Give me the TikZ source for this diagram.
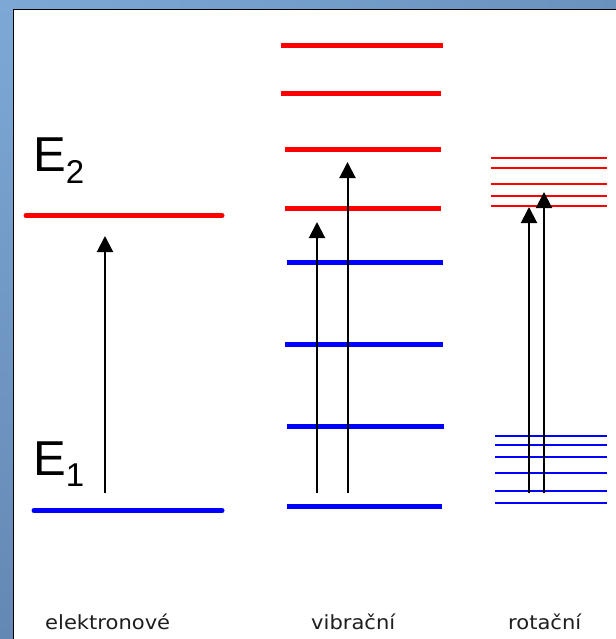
\documentclass[tikz,border=0pt]{standalone}
\usepackage{fontspec}
\setmainfont{Liberation Sans}
\newfontfamily\labfont[FakeStretch=1.08]{DejaVu Sans}
\usetikzlibrary{arrows.meta}
\definecolor{bgTL}{HTML}{7DA8D6}
\definecolor{bgTR}{HTML}{6A92BF}
\definecolor{bgBL}{HTML}{6488B4}
\definecolor{labgray}{HTML}{1E1E1E}
\tikzset{
  uplevel/.style={draw={rgb,255:red,255;green,0;blue,0}},
  lowlevel/.style={draw={rgb,255:red,0;green,0;blue,255}},
  thick level/.style={line width=5bp},
  thin level/.style={line width=2bp},
  excite/.style={line width=2bp,-{Triangle[width=16bp,length=16bp]}},
  biglabel/.style={anchor=base west,inner sep=0pt,font=\fontsize{49bp}{49bp}\selectfont},
  axislabel/.style={anchor=base west,inner sep=0pt,text=labgray,font=\labfont\fontsize{19.5bp}{20bp}\selectfont}
}
\begin{document}
\begin{tikzpicture}[x=1bp,y=-1bp]
\useasboundingbox (0,0) rectangle (616,639);
% background
\fill[white] (0,0) rectangle (616,639);
\shade[top color=bgTL,bottom color=bgBL] (0,0) rectangle (13,639);
\shade[left color=bgTL,right color=bgTR] (0,0) rectangle (616,9);
\draw[line width=1.8bp] (13.5,639) -- (13.5,9.5) -- (616,9.5);

% electronic levels
\draw[uplevel,thick level,line cap=round] (26,215.5) -- (222,215.5);
\draw[lowlevel,thick level,line cap=round] (34,510.5) -- (222,510.5);
\node[biglabel] (E2) at (33,172) {E\raisebox{-12bp}{\fontsize{33bp}{33bp}\selectfont 2}};
\node[biglabel] (E1) at (33,475) {E\raisebox{-11bp}{\fontsize{33bp}{33bp}\selectfont 1}};
\coordinate (e0) at (105,493);
\coordinate (e1) at (105,236);
\draw[excite] (e0) -- (e1);

% vibrational levels
\draw[uplevel,thick level] (281,45.5) -- (443,45.5);
\draw[uplevel,thick level] (281,94) -- (441,94);
\draw[uplevel,thick level] (285,150) -- (441,150);
\draw[uplevel,thick level] (285,208) -- (441,208);
\draw[lowlevel,thick level] (287,262) -- (443,262);
\draw[lowlevel,thick level] (285,344) -- (443,344);
\draw[lowlevel,thick level] (287,426.5) -- (444,426.5);
\draw[lowlevel,thick level] (287,506.5) -- (442,506.5);
\coordinate (va0) at (317,493);
\coordinate (va1) at (317,222);
\coordinate (vb0) at (347.5,493);
\coordinate (vb1) at (347.5,162);
\draw[excite] (va0) -- (va1);
\draw[excite] (vb0) -- (vb1);

% rotational levels
\foreach \y in {158,168,183.5,196,206}
  \draw[uplevel,thin level] (491,\y) -- (607,\y);
\foreach \y in {436,444.5,456.5,472.5,490.5,502.5}
  \draw[lowlevel,thin level] (495,\y) -- (607,\y);
\coordinate (ra0) at (529,493);
\coordinate (ra1) at (529,207);
\coordinate (rb0) at (544,493);
\coordinate (rb1) at (544,192);
\draw[excite] (ra0) -- (ra1);
\draw[excite] (rb0) -- (rb1);

% labels
\node[axislabel] (l1) at (45,629) {elektronové};
\node[axislabel] (l2) at (311,629) {vibrační};
\node[axislabel] (l3) at (508,629) {rotační};
\end{tikzpicture}
\end{document}
